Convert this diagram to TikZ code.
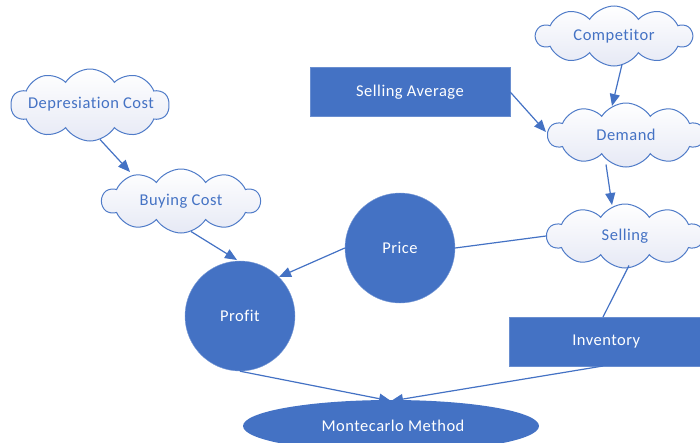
\documentclass[tikz,border=0pt]{standalone}
\usepackage{fontspec}
\setmainfont{Carlito}[LetterSpace=3,Ligatures=NoCommon]
\usetikzlibrary{shapes.symbols,shapes.geometric,arrows.meta}
\definecolor{mblue}{HTML}{4472C4}
\definecolor{cloudline}{HTML}{4F7BC8}
\definecolor{cloudfill}{HTML}{E6E9F5}
\tikzset{
  txt/.style={font=\fontsize{16.5}{18}\selectfont},
  cloudbox/.style={cloud, cloud puffs=10, cloud puff arc=115, aspect=2.3, draw=cloudline, line width=1pt,
    top color=white, bottom color=cloudfill, inner sep=0pt},
  cloudtext/.style={text=mblue, txt, inner sep=0pt},
  bluebox/.style={rectangle, fill=mblue, draw=mblue!80!white, text=white, txt, inner sep=0pt},
  bluecircle/.style={circle, fill=mblue, draw=mblue!70!white, text=white, txt, minimum size=110pt, inner sep=0pt},
  link/.style={draw=mblue, line width=1.2pt},
  arr/.style={link, -{Triangle[length=12pt,width=10pt]}}
}
\begin{document}
\begin{tikzpicture}[x=1pt,y=-1pt]
\useasboundingbox (0,0) rectangle (700,442);
\clip (0,0) rectangle (700,442);
\node[cloudbox, minimum width=158pt, minimum height=72pt] (dep) at (90,105) {};
\node[cloudtext] (dept) at (91,104) {Depresiation Cost};
\node[cloudbox, minimum width=158pt, minimum height=64pt] (buy) at (181,201) {};
\node[cloudtext] (buyt) at (181,201) {Buying Cost};
\node[cloudbox, minimum width=156pt, minimum height=60pt] (comp) at (614,36) {};
\node[cloudtext] (compt) at (614,36) {Competitor};
\node[bluebox, minimum width=200pt, minimum height=49pt] (savg) at (410,92) {Selling Average};
\node[cloudbox, minimum width=156pt, minimum height=64pt] (dem) at (626,135) {};
\node[cloudtext] (demt) at (626,135) {Demand};
\node[cloudbox, minimum width=156pt, minimum height=64pt] (sell) at (625,236) {};
\node[cloudtext] (sellt) at (625,236) {Selling};
\node[bluecircle] (price) at (400,248) {Price};
\node[bluecircle] (profit) at (240,316) {Profit};
\node[bluebox, minimum width=200pt, minimum height=49pt, anchor=west] (inv) at (509,342) {\hspace*{-6pt}Inventory};
\node[ellipse, fill=mblue, minimum width=296pt, minimum height=52pt, inner sep=0pt] (mc) at (391,426) {};
\node[text=white, txt] (mct) at (393,426) {Montecarlo Method};
\coordinate (mctop) at (391,401);
\coordinate (invb) at (603,366);
\coordinate (invt) at (603,317);
\draw[arr] (dep.south) ++(10,-2) coordinate (deps) -- (130,172) coordinate (buytop);
\draw[arr] (buy.south) ++(10,-2) -- (237,260);
\draw[arr] (price.west) -- (profit.north east);
\draw[link] (price.east) -- (sell.west);
\draw[arr] (savg.east) -- (546,132);
\draw[arr] (comp.south) ++(8,-2) -- (612,106);
\draw[arr] (dem.south) ++(-20,-3) -- (612,205);
\draw[link] (sell.south) ++(4,-3) -- (invt);
\draw[arr] (profit.south) -- (mctop);
\draw[arr] (invb) -- (mctop);
\end{tikzpicture}
\end{document}
